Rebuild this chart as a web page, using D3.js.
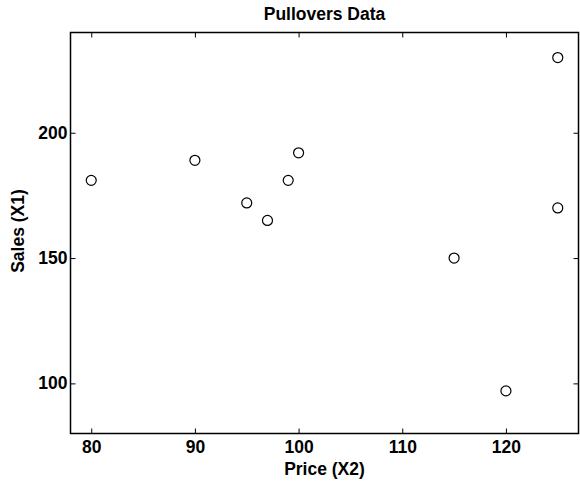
<!DOCTYPE html>
<html><head><meta charset="utf-8">
<script src="https://cdn.jsdelivr.net/npm/d3@7"></script>
<style>body{margin:0;background:#fff}text{font-family:"Liberation Sans",Arial,sans-serif;font-weight:bold}</style>
</head><body>
<script>
const sales = [230, 181, 165, 150, 97, 192, 181, 189, 172, 170];
const price = [125, 99, 97, 115, 120, 100, 80, 90, 95, 125];
const xTicks = [80, 90, 100, 110, 120];
const yTicks = [100, 150, 200];
const title = "Pullovers Data", xLabel = "Price (X2)", yLabel = "Sales (X1)";

const W = 580, H = 481, FS = 17.5;
const L = 70.5, R = 578.5, T = 32.5, B = 433.5;
const svg = d3.select("body").append("svg").attr("width", W).attr("height", H);
const x = d3.scaleLinear().domain([78, 127]).range([L, R]);
const y = d3.scaleLinear().domain([80, 240]).range([B, T]);

function ax(g, axis) { g.call(axis); g.select(".domain").remove(); g.selectAll("line").attr("stroke","#000"); g.selectAll("text").attr("font-size",FS).attr("fill","#000"); }
svg.append("g").attr("transform",`translate(0,${B})`).call(g=>ax(g,d3.axisBottom(x).tickValues(xTicks).tickSizeInner(-5).tickSizeOuter(0).tickPadding(7)));
svg.append("g").attr("transform",`translate(0,${T})`).call(g=>{ax(g,d3.axisTop(x).tickValues(xTicks).tickSizeInner(-5).tickSizeOuter(0)); g.selectAll("text").remove();});
svg.append("g").attr("transform",`translate(${L},0)`).call(g=>ax(g,d3.axisLeft(y).tickValues(yTicks).tickSizeInner(-5).tickSizeOuter(0).tickPadding(3)));
svg.append("g").attr("transform",`translate(${R},0)`).call(g=>{ax(g,d3.axisRight(y).tickValues(yTicks).tickSizeInner(-5).tickSizeOuter(0)); g.selectAll("text").remove();});
svg.append("rect").attr("x",L).attr("y",T).attr("width",R-L).attr("height",B-T).attr("fill","none").attr("stroke","#000").attr("stroke-width",1.5);

svg.append("g").selectAll("circle").data(price.map((p,i)=>[p,sales[i]])).join("circle")
  .attr("cx",d=>x(d[0])).attr("cy",d=>y(d[1])).attr("r",5).attr("fill","#fff").attr("stroke","#000").attr("stroke-width",1.2);

svg.append("text").attr("x",(L+R)/2).attr("y",20).attr("text-anchor","middle").attr("font-size",FS).text(title);
svg.append("text").attr("x",(L+R)/2).attr("y",475).attr("text-anchor","middle").attr("font-size",FS).text(xLabel);
svg.append("text").attr("transform",`translate(24,231) rotate(-90)`).attr("text-anchor","middle").attr("font-size",FS).text(yLabel);
</script>
</body></html>
